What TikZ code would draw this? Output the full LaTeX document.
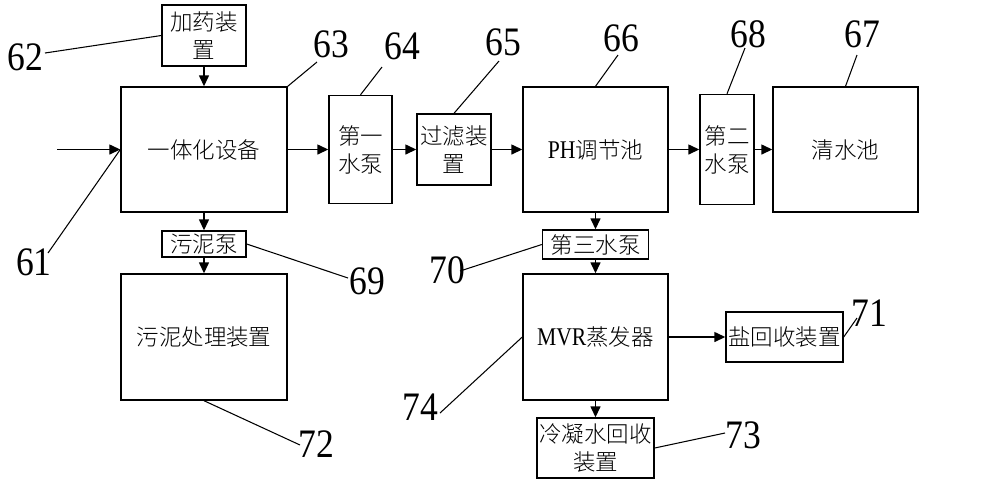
\documentclass[tikz,border=0pt]{standalone}
\usepackage{fontspec}
\setmainfont{Liberation Serif}[FakeStretch=0.85]
\newfontfamily\cjk{Noto Sans CJK SC Light}
\newfontfamily\numfont{Liberation Serif}[FakeStretch=0.88]
\usetikzlibrary{arrows.meta}

\tikzset{
  unit/.style={draw, line width=0.8pt, align=center, inner sep=1pt,
    font=\fontsize{12.8}{16}\selectfont\cjk},
  latin/.style={font=\fontsize{14.5}{16}\selectfont\rmfamily},
  flow/.style={-{Triangle[length=2.2mm,width=2mm]}, line width=0.8pt},
  leader/.style={line width=0.6pt},
  num/.style={inner sep=0pt, font=\fontsize{23}{23}\selectfont\numfont}
}

\begin{document}
\begin{tikzpicture}[x=0.2mm, y=-0.2mm]
        \useasboundingbox (0,0) rectangle (1000,485);

        % treatment units
        \node[unit, minimum width=1.68cm, minimum height=1.22cm] (dosing) at (204,35.5) {加药装\\置};
        \node[unit, minimum width=3.32cm, minimum height=2.5cm] (integ) at (204,149.5) {一体化设备};
        \node[unit, minimum width=1.26cm, minimum height=2.16cm] (pumpA) at (360.5,149.5) {第一\\水泵};
        \node[unit, minimum width=1.48cm, minimum height=1.42cm] (filter) at (454,149.5) {过滤装\\置};
        \node[unit, minimum width=2.9cm, minimum height=2.5cm] (ph) at (595.5,149.5) {{\fontsize{14.5}{16}\selectfont\rmfamily PH}调节池};
        \node[unit, minimum width=1.08cm, minimum height=2.2cm] (pumpB) at (727,149.5) {第二\\水泵};
        \node[unit, minimum width=2.9cm, minimum height=2.5cm] (clean) at (845.5,149.5) {清水池};
        \node[unit, minimum width=1.68cm, minimum height=0.52cm] (sludgepump) at (204,244) {污泥泵};
        \node[unit, minimum width=3.32cm, minimum height=2.52cm] (sludgeproc) at (204,337) {污泥处理装置};
        \node[unit, minimum width=2.12cm, minimum height=0.58cm] (pumpC) at (595.5,244.5) {第三水泵};
        \node[unit, minimum width=2.9cm, minimum height=2.52cm] (mvr) at (595.5,337) {{\fontsize{14.5}{16}\selectfont\rmfamily MVR}蒸发器};
        \node[unit, minimum width=2.34cm, minimum height=1.0cm] (salt) at (784.5,337) {盐回收装置};
        \node[unit, minimum width=2.34cm, minimum height=1.2cm] (condense) at (595.5,448) {冷凝水回收\\装置};

        % flow
        \coordinate (inlet) at (57,149.5);
        \draw[flow] (inlet) -- (integ);
        \draw[flow] (dosing) -- (integ);
        \draw[flow] (integ) -- (pumpA);
        \draw[flow] (pumpA) -- (filter);
        \draw[flow] (filter) -- (ph);
        \draw[flow] (ph) -- (pumpB);
        \draw[flow] (pumpB) -- (clean);
        \draw[flow] (integ) -- (sludgepump);
        \draw[flow] (sludgepump) -- (sludgeproc);
        \draw[flow] (ph) -- (pumpC);
        \draw[flow] (pumpC) -- (mvr);
        \draw[flow] (mvr) -- (salt);
        \draw[flow] (mvr) -- (condense);

        % reference numbers
        \node[num] (n61) at (34,262) {61};
        \node[num] (n62) at (25,57) {62};
        \node[num] (n63) at (331,44) {63};
        \node[num] (n64) at (402,46) {64};
        \node[num] (n65) at (503,42) {65};
        \node[num] (n66) at (621,38) {66};
        \node[num] (n68) at (748,34) {68};
        \node[num] (n67) at (862,34) {67};
        \node[num] (n69) at (367,281) {69};
        \node[num] (n72) at (316,444) {72};
        \node[num] (n70) at (447,270) {70};
        \node[num] (n74) at (420,407) {74};
        \node[num] (n71) at (869,313) {71};
        \node[num] (n73) at (743,435) {73};

        \coordinate (e61) at (48,253);
        \coordinate (e62) at (45,53);
        \coordinate (e63) at (317,62);
        \coordinate (e64) at (382,67);
        \coordinate (e65) at (499,61);
        \coordinate (e66) at (618,55);
        \coordinate (e68) at (745,48);
        \coordinate (e67) at (857,55);
        \coordinate (e69) at (348,278);
        \coordinate (e72) at (300,445);
        \coordinate (e70) at (460,271);
        \coordinate (e74) at (440,413);
        \coordinate (e71) at (857,318);
        \coordinate (e73) at (725,433);

        \draw[leader] (integ.west) -- (e61);
        \draw[leader] (dosing.west) -- (e62);
        \draw[leader] (integ.north east) -- (e63);
        \draw[leader] (pumpA.north) -- (e64);
        \draw[leader] (filter.north) -- (e65);
        \draw[leader] (ph.north) -- (e66);
        \draw[leader] (pumpB.north) -- (e68);
        \draw[leader] (clean.north) -- (e67);
        \draw[leader] (sludgepump.east) -- (e69);
        \draw[leader] (sludgeproc.south) -- (e72);
        \draw[leader] (pumpC.west) -- (e70);
        \draw[leader] (mvr.west) -- (e74);
        \draw[leader] (salt.east) -- (e71);
        \draw[leader] (condense.east) -- (e73);
    \end{tikzpicture}
\end{document}
